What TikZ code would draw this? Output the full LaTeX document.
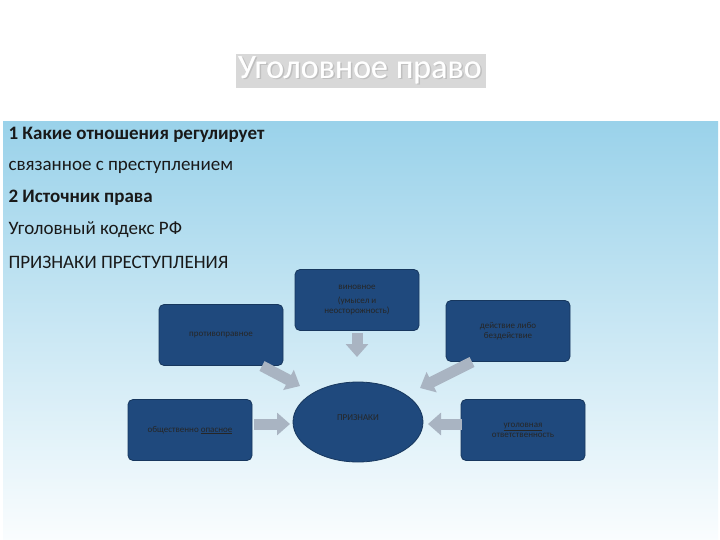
\documentclass[tikz,border=0pt]{standalone}
\usepackage{fontspec}
\setmainfont{Carlito}
\usetikzlibrary{arrows.meta,shapes.geometric,shadows}
\definecolor{boxblue}{HTML}{1F497D}
\definecolor{boxedge}{HTML}{17375E}
\definecolor{topblue}{HTML}{9AD2EA}
\definecolor{arr}{HTML}{A9B4C2}
\tikzset{
 box/.style={draw=boxedge,line width=0.8pt,fill=boxblue,rounded corners=5pt,minimum width=124pt,minimum height=61pt,align=center,font=\fontsize{9}{10}\selectfont,text=black!85},
 blk/.style={draw=arr,line width=11pt,-{Triangle[width=22pt,length=13pt]}},
 line/.style={anchor=west,font=\fontsize{19}{20}\selectfont,text=black!90}
}
\begin{document}
\begin{tikzpicture}[x=1pt,y=-1pt]
\useasboundingbox (0,0) rectangle (720,540);
\fill[white] (0,0) rectangle (720,540);
\shade[top color=topblue,bottom color=white!95!topblue] (3,122) rectangle (718,540);
\node[font=\fontsize{34}{36}\selectfont,text=white,drop shadow={shadow xshift=1pt,shadow yshift=-1pt,opacity=0.3}] (title) at (360,70) {Уголовное право};
\node[text=black!25,font=\fontsize{34}{36}\selectfont] at (361.5,71.5) {Уголовное право};
\node[font=\fontsize{34}{36}\selectfont,text=white] (title2) at (360,70) {Уголовное право};
\node[line] (l1) at (5,135) {\textbf{1 Какие отношения регулирует}};
\node[line] (l2) at (5,167) {связанное с преступлением};
\node[line] (l3) at (5,198) {\textbf{2 Источник права}};
\node[line] (l4) at (5,230) {Уголовный кодекс РФ};
\node[line] (l5) at (5,262) {ПРИЗНАКИ ПРЕСТУПЛЕНИЯ};
\node[box] (vin) at (357,300) {виновное\\[4pt](умысел и\\неосторожность)};
\node[box] (prot) at (221,335) {противоправное};
\node[box] (dei) at (508,331) {действие либо\\бездействие};
\node[box] (obsh) at (190,430) {общественно \underline{опасное}};
\node[box] (ugol) at (523,430) {\underline{уголовная}\\ответственность};
\node[ellipse,draw=boxedge,line width=0.8pt,fill=boxblue,minimum width=130pt,minimum height=80pt,font=\fontsize{9}{10}\selectfont,text=black!85] (pr) at (358,422) {\raisebox{8pt}{ПРИЗНАКИ}};
\coordinate (a1s) at (357,333); \coordinate (a1e) at (357,357);
\coordinate (a2s) at (262,366); \coordinate (a2e) at (300,386);
\coordinate (a3s) at (472,362); \coordinate (a3e) at (420,388);
\coordinate (a4s) at (254,424); \coordinate (a4e) at (290,424);
\coordinate (a5s) at (462,424); \coordinate (a5e) at (428,424);
\foreach \s/\e in {a1s/a1e,a2s/a2e,a3s/a3e,a4s/a4e,a5s/a5e} \draw[blk] (\s) -- (\e);
\end{tikzpicture}
\end{document}
